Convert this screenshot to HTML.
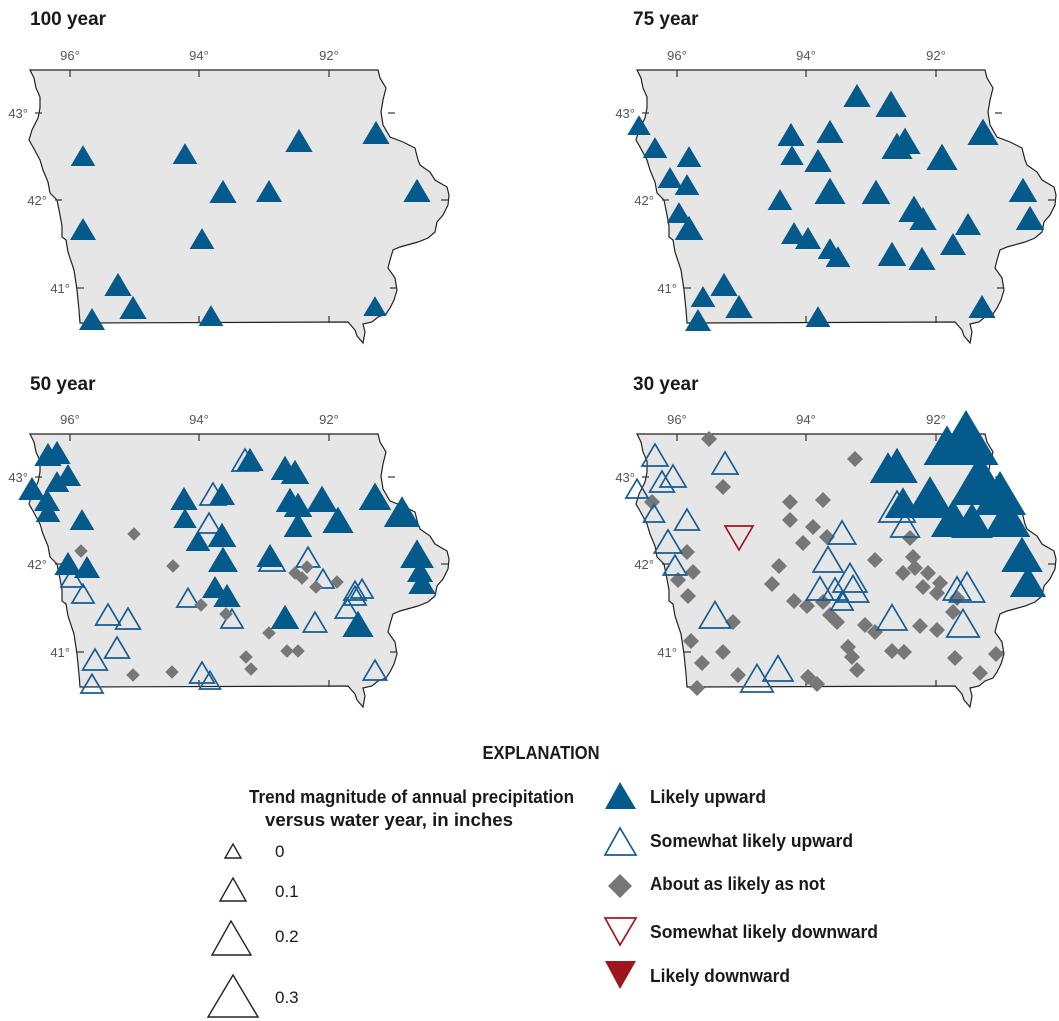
<!DOCTYPE html>
<html><head><meta charset="utf-8"><style>
html,body{margin:0;padding:0;background:#fff;}
svg{display:block;}
text{font-family:"Liberation Sans Narrow","Liberation Sans",sans-serif;}
.t{font-weight:bold;font-size:19px;fill:#1a1a1a;}
.d{font-size:13px;fill:#555;}
.lg{font-weight:bold;font-size:18px;fill:#1a1a1a;}
.ln{font-size:17px;fill:#1a1a1a;}
</style></head><body>
<svg width="1059" height="1021" viewBox="0 0 1059 1021" xmlns="http://www.w3.org/2000/svg" xmlns:xlink="http://www.w3.org/1999/xlink">
<defs>
<polygon id="T" points="-13,0 13,0 0,-22" fill="#055a8c"/>
<polygon id="O" points="-13,0 13,0 0,-22" fill="none" stroke="#155d94" stroke-width="1.7" vector-effect="non-scaling-stroke"/>
<polygon id="D" points="0,-8 8,0 0,8 -8,0" fill="#777"/>
<g id="map">
<path d="M30,70 L378,70 L380,78 L386,88 L383,100 L381,112 L383,125 L390,137 L403,142 L415,148 L418,160 L420,165 L430,172 L435,180 L447,187 L449,195 L448,205 L443,215 L437,222 L435,232 L428,238 L418,242 L400,247 L393,250 L390,260 L388,268 L395,278 L397,290 L394,300 L390,308 L386,314 L378,317 L372,322 L363,324 L365,332 L363,343 L357,336 L355,330 L348,322 L80,323 L79,310 L77,290 L74,270 L68,252 L66,240 L62,237 L62,226 L60,215 L57,200 L50,193 L48,182 L43,170 L40,160 L33,147 L29,140 L32,130 L38,118 L40,108 L40,97 L36,88 L34,78 Z" fill="#e6e6e6" stroke="#222" stroke-width="1.2"/>
<g stroke="#333" stroke-width="1.2">
<line x1="70" y1="70" x2="70" y2="77"/><line x1="199" y1="70" x2="199" y2="77"/><line x1="329" y1="70" x2="329" y2="77"/>
<line x1="199" y1="316" x2="199" y2="323"/><line x1="329" y1="316" x2="329" y2="323"/>
<line x1="35" y1="113" x2="42" y2="113"/><line x1="55" y1="200" x2="62" y2="200"/><line x1="77" y1="288" x2="84" y2="288"/>
<line x1="441" y1="200" x2="448" y2="200"/><line x1="388" y1="113" x2="395" y2="113"/><line x1="390" y1="288" x2="397" y2="288"/>
</g>
<text class="d" x="70" y="60" text-anchor="middle">96°</text>
<text class="d" x="199" y="60" text-anchor="middle">94°</text>
<text class="d" x="329" y="60" text-anchor="middle">92°</text>
<text class="d" x="28" y="118" text-anchor="end">43°</text>
<text class="d" x="47" y="205" text-anchor="end">42°</text>
<text class="d" x="70" y="293" text-anchor="end">41°</text>
</g>
</defs>

<!-- 100 year -->
<text class="t" x="30" y="25">100 year</text>
<use href="#map"/>
<g>
<use href="#T" transform="translate(83,166) scale(0.95)"/>
<use href="#T" transform="translate(185,164) scale(0.95)"/>
<use href="#T" transform="translate(299,152) scale(1.05)"/>
<use href="#T" transform="translate(376,144) scale(1.05)"/>
<use href="#T" transform="translate(223,203) scale(1.05)"/>
<use href="#T" transform="translate(269,202) scale(1.0)"/>
<use href="#T" transform="translate(417,202) scale(1.05)"/>
<use href="#T" transform="translate(83,240) scale(1.0)"/>
<use href="#T" transform="translate(202,249) scale(0.95)"/>
<use href="#T" transform="translate(118,296) scale(1.05)"/>
<use href="#T" transform="translate(133,319) scale(1.05)"/>
<use href="#T" transform="translate(92,330) scale(1.0)"/>
<use href="#T" transform="translate(211,326) scale(0.95)"/>
<use href="#T" transform="translate(375,316) scale(0.9)"/>
</g>

<!-- 75 year -->
<text class="t" x="633" y="25">75 year</text>
<g transform="translate(607,0)">
<use href="#map"/>
<use href="#T" transform="translate(32,135) scale(0.9)"/>
<use href="#T" transform="translate(48,158) scale(0.95)"/>
<use href="#T" transform="translate(82,167) scale(0.95)"/>
<use href="#T" transform="translate(63,188) scale(0.95)"/>
<use href="#T" transform="translate(80,195) scale(0.95)"/>
<use href="#T" transform="translate(72,223) scale(0.95)"/>
<use href="#T" transform="translate(82,240) scale(1.1)"/>
<use href="#T" transform="translate(96,307) scale(0.95)"/>
<use href="#T" transform="translate(117,296) scale(1.05)"/>
<use href="#T" transform="translate(132,318) scale(1.05)"/>
<use href="#T" transform="translate(91,331) scale(1.0)"/>
<use href="#T" transform="translate(250,107) scale(1.05)"/>
<use href="#T" transform="translate(284,117) scale(1.2)"/>
<use href="#T" transform="translate(184,146) scale(1.05)"/>
<use href="#T" transform="translate(185,165) scale(0.9)"/>
<use href="#T" transform="translate(223,143) scale(1.05)"/>
<use href="#T" transform="translate(211,172) scale(1.05)"/>
<use href="#T" transform="translate(173,210) scale(0.95)"/>
<use href="#T" transform="translate(223,204) scale(1.2)"/>
<use href="#T" transform="translate(269,204) scale(1.1)"/>
<use href="#T" transform="translate(290,159) scale(1.2)"/>
<use href="#T" transform="translate(298,154) scale(1.2)"/>
<use href="#T" transform="translate(335,170) scale(1.2)"/>
<use href="#T" transform="translate(376,145) scale(1.2)"/>
<use href="#T" transform="translate(416,202) scale(1.1)"/>
<use href="#T" transform="translate(423,230) scale(1.1)"/>
<use href="#T" transform="translate(307,222) scale(1.2)"/>
<use href="#T" transform="translate(316,230) scale(1.05)"/>
<use href="#T" transform="translate(187,244) scale(1.0)"/>
<use href="#T" transform="translate(201,249) scale(1.0)"/>
<use href="#T" transform="translate(223,259) scale(0.95)"/>
<use href="#T" transform="translate(231,267) scale(0.95)"/>
<use href="#T" transform="translate(285,266) scale(1.1)"/>
<use href="#T" transform="translate(315,270) scale(1.05)"/>
<use href="#T" transform="translate(346,255) scale(1.0)"/>
<use href="#T" transform="translate(361,235) scale(1.0)"/>
<use href="#T" transform="translate(375,318) scale(1.05)"/>
<use href="#T" transform="translate(211,327) scale(0.95)"/>
</g>

<!-- 50 year -->
<text class="t" x="30" y="390">50 year</text>
<g transform="translate(0,364)">
<use href="#map"/>
<use href="#O" transform="translate(245,107) scale(1.0)"/>
<use href="#O" transform="translate(213,141) scale(1.0)"/>
<use href="#O" transform="translate(72,223) scale(0.85)"/>
<use href="#O" transform="translate(83,239) scale(0.85)"/>
<use href="#O" transform="translate(108,261) scale(0.95)"/>
<use href="#O" transform="translate(128,265) scale(0.95)"/>
<use href="#O" transform="translate(117,294) scale(0.95)"/>
<use href="#O" transform="translate(95,306) scale(0.95)"/>
<use href="#O" transform="translate(92,329) scale(0.85)"/>
<use href="#O" transform="translate(188,243) scale(0.85)"/>
<use href="#O" transform="translate(209,169) scale(0.9)"/>
<use href="#O" transform="translate(232,264) scale(0.85)"/>
<use href="#O" transform="translate(202,319) scale(0.95)"/>
<use href="#O" transform="translate(210,325) scale(0.8)"/>
<use href="#O" transform="translate(308,203) scale(0.9)"/>
<use href="#O" transform="translate(272,207) scale(1.0)"/>
<use href="#O" transform="translate(323,224) scale(0.85)"/>
<use href="#O" transform="translate(355,236) scale(0.85)"/>
<use href="#O" transform="translate(362,234) scale(0.85)"/>
<use href="#O" transform="translate(347,254) scale(0.9)"/>
<use href="#O" transform="translate(355,241) scale(0.85)"/>
<use href="#O" transform="translate(315,268) scale(0.9)"/>
<use href="#O" transform="translate(375,316) scale(0.9)"/>
<use href="#D" transform="translate(134,170) scale(0.85)"/>
<use href="#D" transform="translate(81,187) scale(0.85)"/>
<use href="#D" transform="translate(173,202) scale(0.85)"/>
<use href="#D" transform="translate(295,209) scale(0.85)"/>
<use href="#D" transform="translate(302,214) scale(0.85)"/>
<use href="#D" transform="translate(307,203) scale(0.85)"/>
<use href="#D" transform="translate(316,223) scale(0.85)"/>
<use href="#D" transform="translate(337,218) scale(0.85)"/>
<use href="#D" transform="translate(201,241) scale(0.85)"/>
<use href="#D" transform="translate(226,250) scale(0.85)"/>
<use href="#D" transform="translate(269,269) scale(0.85)"/>
<use href="#D" transform="translate(287,287) scale(0.85)"/>
<use href="#D" transform="translate(298,287) scale(0.85)"/>
<use href="#D" transform="translate(246,293) scale(0.85)"/>
<use href="#D" transform="translate(251,305) scale(0.85)"/>
<use href="#D" transform="translate(133,311) scale(0.85)"/>
<use href="#D" transform="translate(172,308) scale(0.85)"/>
<use href="#T" transform="translate(48,102) scale(1.05)"/>
<use href="#T" transform="translate(57,100) scale(1.05)"/>
<use href="#T" transform="translate(57,128) scale(0.95)"/>
<use href="#T" transform="translate(68,122) scale(1.0)"/>
<use href="#T" transform="translate(32,136) scale(1.05)"/>
<use href="#T" transform="translate(47,147) scale(1.0)"/>
<use href="#T" transform="translate(48,158) scale(0.95)"/>
<use href="#T" transform="translate(82,166) scale(0.95)"/>
<use href="#T" transform="translate(184,146) scale(1.05)"/>
<use href="#T" transform="translate(185,164) scale(0.9)"/>
<use href="#T" transform="translate(198,187) scale(0.95)"/>
<use href="#T" transform="translate(222,183) scale(1.1)"/>
<use href="#T" transform="translate(223,208) scale(1.15)"/>
<use href="#T" transform="translate(215,234) scale(1.0)"/>
<use href="#T" transform="translate(227,243) scale(1.05)"/>
<use href="#T" transform="translate(250,107) scale(1.05)"/>
<use href="#T" transform="translate(222,141) scale(1.0)"/>
<use href="#T" transform="translate(285,116) scale(1.1)"/>
<use href="#T" transform="translate(295,120) scale(1.1)"/>
<use href="#T" transform="translate(290,148) scale(1.1)"/>
<use href="#T" transform="translate(298,153) scale(1.1)"/>
<use href="#T" transform="translate(298,173) scale(1.1)"/>
<use href="#T" transform="translate(322,148) scale(1.2)"/>
<use href="#T" transform="translate(338,169) scale(1.2)"/>
<use href="#T" transform="translate(375,146) scale(1.25)"/>
<use href="#T" transform="translate(402,163) scale(1.4)"/>
<use href="#T" transform="translate(417,204) scale(1.3)"/>
<use href="#T" transform="translate(420,218) scale(1.0)"/>
<use href="#T" transform="translate(422,230) scale(1.05)"/>
<use href="#T" transform="translate(270,203) scale(1.05)"/>
<use href="#T" transform="translate(285,265) scale(1.1)"/>
<use href="#T" transform="translate(358,273) scale(1.2)"/>
<use href="#T" transform="translate(68,211) scale(1.05)"/>
<use href="#T" transform="translate(87,214) scale(1.0)"/>
</g>

<!-- 30 year -->
<text class="t" x="633" y="390">30 year</text>
<g transform="translate(607,364)">
<use href="#map"/>
<use href="#D" transform="translate(102,75)"/>
<use href="#D" transform="translate(248,95)"/>
<use href="#D" transform="translate(116,123)"/>
<use href="#D" transform="translate(45,138)"/>
<use href="#D" transform="translate(183,138)"/>
<use href="#D" transform="translate(216,136)"/>
<use href="#D" transform="translate(183,156)"/>
<use href="#D" transform="translate(206,163)"/>
<use href="#D" transform="translate(220,173)"/>
<use href="#D" transform="translate(196,179)"/>
<use href="#D" transform="translate(80,188)"/>
<use href="#D" transform="translate(86,208)"/>
<use href="#D" transform="translate(71,216)"/>
<use href="#D" transform="translate(81,232)"/>
<use href="#D" transform="translate(172,202)"/>
<use href="#D" transform="translate(165,220)"/>
<use href="#D" transform="translate(187,237)"/>
<use href="#D" transform="translate(200,242)"/>
<use href="#D" transform="translate(216,238)"/>
<use href="#D" transform="translate(223,251)"/>
<use href="#D" transform="translate(230,258)"/>
<use href="#D" transform="translate(126,258)"/>
<use href="#D" transform="translate(258,261)"/>
<use href="#D" transform="translate(268,268)"/>
<use href="#D" transform="translate(84,277)"/>
<use href="#D" transform="translate(116,288)"/>
<use href="#D" transform="translate(95,299)"/>
<use href="#D" transform="translate(131,311)"/>
<use href="#D" transform="translate(90,324)"/>
<use href="#D" transform="translate(201,313)"/>
<use href="#D" transform="translate(210,320)"/>
<use href="#D" transform="translate(241,283)"/>
<use href="#D" transform="translate(245,293)"/>
<use href="#D" transform="translate(250,306)"/>
<use href="#D" transform="translate(285,287)"/>
<use href="#D" transform="translate(297,288)"/>
<use href="#D" transform="translate(313,262)"/>
<use href="#D" transform="translate(330,266)"/>
<use href="#D" transform="translate(350,234)"/>
<use href="#D" transform="translate(346,248)"/>
<use href="#D" transform="translate(303,174)"/>
<use href="#D" transform="translate(268,196)"/>
<use href="#D" transform="translate(306,193)"/>
<use href="#D" transform="translate(296,209)"/>
<use href="#D" transform="translate(308,204)"/>
<use href="#D" transform="translate(321,209)"/>
<use href="#D" transform="translate(316,223)"/>
<use href="#D" transform="translate(333,219)"/>
<use href="#D" transform="translate(330,229)"/>
<use href="#D" transform="translate(348,294)"/>
<use href="#D" transform="translate(373,309)"/>
<use href="#D" transform="translate(389,290)"/>
<use href="#O" transform="translate(48,102) scale(1.0)"/>
<use href="#O" transform="translate(55,128) scale(0.95)"/>
<use href="#O" transform="translate(66,123) scale(1.0)"/>
<use href="#O" transform="translate(30,134) scale(0.85)"/>
<use href="#O" transform="translate(47,158) scale(0.8)"/>
<use href="#O" transform="translate(80,166) scale(0.95)"/>
<use href="#O" transform="translate(61,189) scale(1.05)"/>
<use href="#O" transform="translate(68,211) scale(0.9)"/>
<use href="#O" transform="translate(118,110) scale(1.0)"/>
<use href="#O" transform="translate(235,180) scale(1.05)"/>
<use href="#O" transform="translate(221,208) scale(1.15)"/>
<use href="#O" transform="translate(243,228) scale(1.3)"/>
<use href="#O" transform="translate(213,236) scale(1.05)"/>
<use href="#O" transform="translate(228,236) scale(1.0)"/>
<use href="#O" transform="translate(246,238) scale(1.2)"/>
<use href="#O" transform="translate(235,246) scale(0.85)"/>
<use href="#O" transform="translate(108,264) scale(1.2)"/>
<use href="#O" transform="translate(150,328) scale(1.25)"/>
<use href="#O" transform="translate(171,317) scale(1.15)"/>
<use href="#O" transform="translate(285,266) scale(1.15)"/>
<use href="#O" transform="translate(356,273) scale(1.25)"/>
<use href="#O" transform="translate(360,238) scale(1.35)"/>
<use href="#O" transform="translate(350,236) scale(1.05)"/>
<use href="#O" transform="translate(290,158) scale(1.4)"/>
<use href="#O" transform="translate(298,173) scale(1.1)"/>
<polygon points="118,162 146,162 132,186" fill="none" stroke="#a3161c" stroke-width="1.7"/>
<use href="#T" transform="translate(290,119) scale(1.6)"/>
<use href="#T" transform="translate(281,119) scale(1.4)"/>
<use href="#T" transform="translate(340,101) scale(1.8)"/>
<use href="#T" transform="translate(359,101) scale(2.5)"/>
<use href="#T" transform="translate(323,154) scale(1.9)"/>
<use href="#T" transform="translate(296,154) scale(1.4)"/>
<use href="#T" transform="translate(373,141) scale(2.3)"/>
<use href="#T" transform="translate(346,173) scale(1.7)"/>
<use href="#T" transform="translate(365,174) scale(1.6)"/>
<use href="#T" transform="translate(400,173) scale(1.8)"/>
<use href="#T" transform="translate(393,151) scale(2.0)"/>
<use href="#T" transform="translate(415,208) scale(1.6)"/>
<use href="#T" transform="translate(421,233) scale(1.4)"/>
</g>

<!-- Legend -->
<text class="lg" x="541" y="759" text-anchor="middle" textLength="117" lengthAdjust="spacingAndGlyphs">EXPLANATION</text>
<text class="lg" x="249" y="803" textLength="325" lengthAdjust="spacingAndGlyphs">Trend magnitude of annual precipitation</text>
<text class="lg" x="265" y="826" textLength="248" lengthAdjust="spacingAndGlyphs">versus water year, in inches</text>
<g fill="none" stroke="#222" stroke-width="1.4">
<polygon points="225,858 241,858 233,844"/>
<polygon points="220,901 246,901 233,878"/>
<polygon points="212,955 251,955 231,921"/>
<polygon points="208,1017 258,1017 233,975"/>
</g>
<text class="ln" x="275" y="857">0</text>
<text class="ln" x="275" y="897">0.1</text>
<text class="ln" x="275" y="942">0.2</text>
<text class="ln" x="275" y="1003">0.3</text>

<polygon points="605,809 636,809 620,782" fill="#055a8c"/>
<polygon points="605,855 636,855 620,828" fill="none" stroke="#155d94" stroke-width="1.7"/>
<polygon points="620,874 632,886 620,898 608,886" fill="#777"/>
<polygon points="605,918 636,918 620,945" fill="none" stroke="#a3161c" stroke-width="1.7"/>
<polygon points="605,961 636,961 620,989" fill="#9e161c"/>
<text class="lg" x="650" y="803" textLength="116" lengthAdjust="spacingAndGlyphs">Likely upward</text>
<text class="lg" x="650" y="847" textLength="203" lengthAdjust="spacingAndGlyphs">Somewhat likely upward</text>
<text class="lg" x="650" y="890" textLength="175" lengthAdjust="spacingAndGlyphs">About as likely as not</text>
<text class="lg" x="650" y="938" textLength="228" lengthAdjust="spacingAndGlyphs">Somewhat likely downward</text>
<text class="lg" x="650" y="982" textLength="140" lengthAdjust="spacingAndGlyphs">Likely downward</text>
</svg>
</body></html>
